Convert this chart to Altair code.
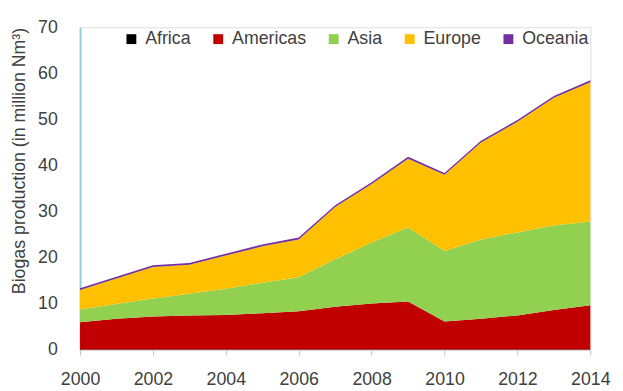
import altair as alt
import pandas as pd

years = list(range(2000, 2015))
regions = ["Africa", "Americas", "Asia", "Europe", "Oceania"]
colors = ["#000000", "#C00000", "#92D050", "#FFC000", "#7030A0"]

africa = [0.1, 0.1, 0.1, 0.1, 0.1, 0.1, 0.1, 0.1, 0.1, 0.1, 0.1, 0.1, 0.1, 0.1, 0.1]
americas = [5.9, 6.7, 7.2, 7.4, 7.5, 7.9, 8.3, 9.3, 10.0, 10.4, 6.1, 6.7, 7.4, 8.6, 9.6]
asia = [2.8, 3.2, 3.9, 4.7, 5.7, 6.6, 7.4, 10.3, 13.2, 16.1, 15.3, 17.2, 18.0, 18.3, 18.2]
europe = [4.2, 5.5, 6.8, 6.3, 7.2, 7.9, 8.2, 11.3, 12.7, 14.9, 16.5, 21.0, 24.0, 27.7, 30.2]
oceania = [0.4, 0.4, 0.4, 0.4, 0.4, 0.4, 0.4, 0.4, 0.4, 0.4, 0.4, 0.4, 0.4, 0.4, 0.4]

series = [africa, americas, asia, europe, oceania]
rows = []
for i, (name, vals) in enumerate(zip(regions, series)):
    for y, v in zip(years, vals):
        rows.append({"year": y, "region": name, "value": v, "idx": i})
df = pd.DataFrame(rows)

x_ticks = list(range(2000, 2015, 2))
y_ticks = list(range(0, 71, 10))

font = "Liberation Sans"
text_color = "#404040"

chart = alt.Chart(df).mark_area(interpolate="linear").encode(
    x=alt.X("year:Q",
            scale=alt.Scale(domain=[2000, 2014], nice=False, zero=False),
            axis=alt.Axis(values=x_ticks, format="d", title=None, grid=False,
                          domain=False, tickColor="#bfbfbf", tickSize=5,
                          labelPadding=16, labelFontSize=18, labelFont=font,
                          labelColor=text_color, labelFlush=False)),
    y=alt.Y("value:Q", stack="zero",
            scale=alt.Scale(domain=[0, 70], nice=False),
            axis=alt.Axis(values=y_ticks, title="Biogas production (in million Nm³)",
                          grid=False, domain=True, domainColor="#92CDDC",
                          domainWidth=2, ticks=False, labelPadding=23,
                          labelFontSize=18, labelFont=font, labelColor=text_color,
                          titleFont=font, titleFontSize=18, titleFontWeight="normal",
                          titleColor=text_color, titleAngle=270,
                          titleAlign="center", titleBaseline="middle",
                          titleX=-61, titleY=135)),
    color=alt.Color("region:N",
                    scale=alt.Scale(domain=regions, range=colors),
                    legend=alt.Legend(title=None, orient="none", direction="horizontal",
                                      legendX=43, legendY=3, symbolType="square",
                                      symbolSize=100, symbolStrokeWidth=0,
                                      labelFont=font, labelFontSize=18,
                                      labelColor=text_color, labelOffset=5,
                                      columnPadding=18, columns=5)),
    order=alt.Order("idx:Q"),
).properties(
    width=517,
    height=327,
    autosize="none",
    padding={"left": 73, "top": 17, "right": 25, "bottom": 42},
).configure_view(stroke=None).configure(background="white")

chart.save("out.html", embed_options={"renderer": "svg", "actions": False})
